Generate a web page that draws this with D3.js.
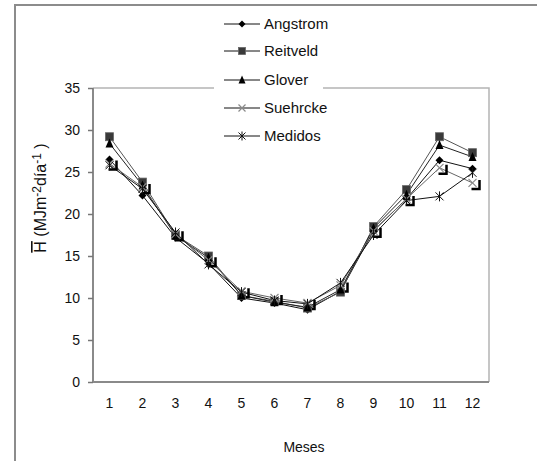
<!DOCTYPE html>
<html>
<head>
<meta charset="utf-8">
<script src="https://cdn.jsdelivr.net/npm/d3@7"></script>
<style>
  body { margin: 0; background: #fff; }
  text { font-family: "Liberation Sans", Arial, sans-serif; fill: #111; }
</style>
</head>
<body>
<div id="wrapper"></div>
<script>
// data
const months = ["1", "2", "3", "4", "5", "6", "7", "8", "9", "10", "11", "12"]
const angstrom = [26.5, 22.2, 17.2, 14.1, 10.0, 9.4, 8.6, 10.8, 18.0, 21.8, 26.4, 25.4]
const reitveld = [29.2, 23.8, 17.5, 15.0, 10.3, 9.6, 8.8, 10.7, 18.5, 22.9, 29.2, 27.3]
const glover = [28.4, 23.4, 17.4, 14.8, 10.3, 9.5, 8.9, 11.0, 18.3, 22.3, 28.2, 26.8]
const suehrcke = [26.0, 23.2, 17.6, 14.5, 10.8, 10.0, 9.4, 11.5, 18.0, 21.8, 25.5, 23.7]
const medidos = [25.8, 23.0, 17.8, 14.0, 10.7, 9.7, 9.3, 11.8, 17.5, 21.6, 22.1, 24.9]
const yTicks = [0, 5, 10, 15, 20, 25, 30, 35]

const series = [
    { name: "Angstrom", values: angstrom, marker: "diamond" },
    { name: "Reitveld", values: reitveld, marker: "square" },
    { name: "Glover", values: glover, marker: "triangle" },
    { name: "Suehrcke", values: suehrcke, marker: "cross" },
    { name: "Medidos", values: medidos, marker: "asterisk" },
]

const width = 537
const height = 461
const margins = { top: 88, right: 48, bottom: 79, left: 93 }
const boundedWidth = width - margins.left - margins.right
const boundedHeight = height - margins.top - margins.bottom

const svg = d3.select("#wrapper")
    .append("svg")
    .attr("width", width)
    .attr("height", height)

// outer frame (left + top)
svg.append("path")
    .attr("d", `M15,${height} V5 H${width}`)
    .attr("fill", "none")
    .attr("stroke", "#8c8c8c")
    .attr("stroke-width", 2)

const bounds = svg.append("g")
    .attr("transform", `translate(${margins.left},${margins.top})`)

const xScale = d3.scaleBand()
    .domain(months)
    .range([0, boundedWidth])

const yScale = d3.scaleLinear()
    .domain([0, 35])
    .range([boundedHeight, 0])

// plot border
bounds.append("path")
    .attr("d", `M0,0 H${boundedWidth} V${boundedHeight}`)
    .attr("fill", "none")
    .attr("stroke", "#b4b4b4")
    .attr("stroke-width", 1.5)
bounds.append("path")
    .attr("d", `M0,0 V${boundedHeight} H${boundedWidth}`)
    .attr("fill", "none")
    .attr("stroke", "#8a8a8a")
    .attr("stroke-width", 2)

// y axis
const yAxis = bounds.append("g")
    .call(d3.axisLeft(yScale).tickValues(yTicks).tickSize(5).tickPadding(8))
yAxis.select(".domain").remove()
yAxis.selectAll(".tick line").attr("stroke", "#777").attr("stroke-width", 1.5)
yAxis.selectAll("text").style("font-size", "14px").attr("fill", "#111")

// x axis
const xAxis = bounds.append("g")
    .attr("transform", `translate(0,${boundedHeight})`)
    .call(d3.axisBottom(xScale).tickSize(0).tickPadding(16))
xAxis.select(".domain").remove()
xAxis.selectAll("text").style("font-size", "14px").attr("fill", "#111")

svg.append("text")
    .attr("x", 304)
    .attr("y", 452)
    .attr("text-anchor", "middle")
    .style("font-size", "14px")
    .text("Meses")

// y label
const yLabel = svg.append("text")
    .attr("transform", "translate(46,198) rotate(-90)")
    .attr("text-anchor", "middle")
    .style("font-size", "16px")
yLabel.append("tspan").style("text-decoration", "overline").text("H")
yLabel.append("tspan").text(" (MJm")
yLabel.append("tspan").attr("dy", -5).style("font-size", "12px").text("-2")
yLabel.append("tspan").attr("dy", 5).text("día")
yLabel.append("tspan").attr("dy", -5).style("font-size", "12px").text("-1")
yLabel.append("tspan").attr("dy", 5).text(" )")

// markers
function drawMarker(g, type, size) {
    const s = size
    if (type === "diamond") {
        g.append("path").attr("d", `M0,${-s} L${s},0 L0,${s} L${-s},0 Z`).attr("fill", "#000")
    } else if (type === "square") {
        g.append("rect").attr("x", -s).attr("y", -s).attr("width", 2 * s).attr("height", 2 * s)
            .attr("fill", "#3a3a3a").attr("stroke", "#666").attr("stroke-width", 0.8)
    } else if (type === "triangle") {
        g.append("path").attr("d", `M0,${-s - 1} L${s},${s} L${-s},${s} Z`).attr("fill", "#000")
    } else if (type === "cross") {
        g.append("path").attr("d", `M${-s},${-s} L${s},${s} M${-s},${s} L${s},${-s}`)
            .attr("stroke", "#8a8a8a").attr("stroke-width", 1.2)
    } else if (type === "asterisk") {
        g.append("path").attr("d", `M${-s},${-s} L${s},${s} M${-s},${s} L${s},${-s} M0,${-s - 1} V${s + 1}`)
            .attr("stroke", "#111").attr("stroke-width", 1)
    }
}

const line = d3.line()
    .x((d, i) => xScale(months[i]) + xScale.bandwidth() / 2)
    .y(d => yScale(d))

const lineColors = { Angstrom: "#111", Reitveld: "#555", Glover: "#222", Suehrcke: "#666", Medidos: "#111" }

series.forEach(s => {
    bounds.append("path")
        .datum(s.values)
        .attr("d", line)
        .attr("fill", "none")
        .attr("stroke", lineColors[s.name])
        .attr("stroke-width", 1)
})

// shadow corners under Suehrcke points
bounds.selectAll(".shadow")
    .data(suehrcke)
    .join("path")
    .attr("class", "shadow")
    .attr("d", (d, i) => {
        const x = xScale(months[i]) + xScale.bandwidth() / 2
        const y = yScale(d)
        return `M${x - 1},${y + 6} H${x + 7} V${y - 3}`
    })
    .attr("fill", "none")
    .attr("stroke", "#000")
    .attr("stroke-width", 2.5)

const sizes = { diamond: 4, square: 4, triangle: 4, cross: 4, asterisk: 4 }
series.forEach(s => {
    s.values.forEach((v, i) => {
        const g = bounds.append("g")
            .attr("transform", `translate(${xScale(months[i]) + xScale.bandwidth() / 2},${yScale(v)})`)
        drawMarker(g, s.marker, sizes[s.marker])
    })
})

// legend
const legend = svg.append("g")
legend.append("rect")
    .attr("x", 214).attr("y", 10)
    .attr("width", 109).attr("height", 140)
    .attr("fill", "#fff")

const legendRows = [24, 51, 80, 108, 136]
series.forEach((s, i) => {
    const row = legend.append("g").attr("transform", `translate(0,${legendRows[i]})`)
    row.append("line")
        .attr("x1", 224).attr("x2", 260)
        .attr("stroke", "#111").attr("stroke-width", 1)
    const g = row.append("g").attr("transform", "translate(242,0)")
    drawMarker(g, s.marker, 3.5)
    row.append("text")
        .attr("x", 264)
        .attr("y", 5)
        .style("font-size", "15px")
        .text(s.name)
})
</script>
</body>
</html>
